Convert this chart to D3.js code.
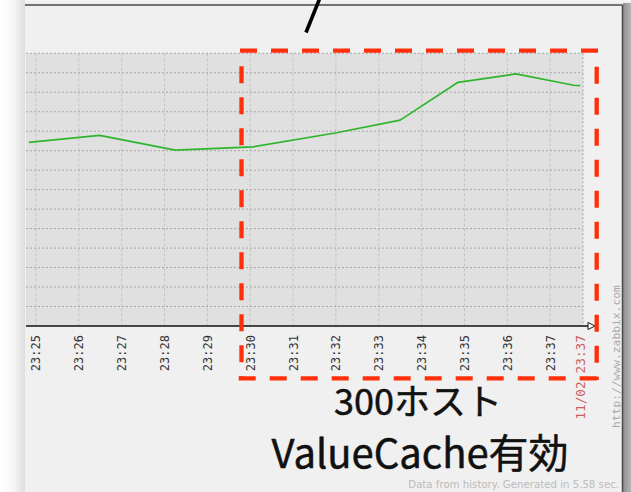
<!DOCTYPE html>
<html><head><meta charset="utf-8">
<script src="https://cdn.jsdelivr.net/npm/d3@7"></script>
<style>html,body{margin:0;padding:0;background:#fff;overflow:hidden}svg{display:block}</style>
</head><body>
<script>
// ---- data ----
const times = ["23:24:50","23:26:29","23:28:15","23:30:04","23:32:01","23:33:30","23:34:51","23:36:12","23:37:33","23:37:42"];
const values = [9.43, 9.79, 9.03, 9.20, 9.92, 10.57, 12.51, 12.94, 12.36, 12.34];
const tickLabels = ["23:25","23:26","23:27","23:28","23:29","23:30","23:31","23:32","23:33","23:34","23:35","23:36","23:37"];
const timeRange = ["23:24:46","23:37:46"];
const lastLabel = "11/02 23:37";
const yDomain = [0, 14];
const yGrid = d3.range(0, 15);
const title1 = "300ホスト";
const title2 = "ValueCache有効";
const footer = "Data from history. Generated in 5.58 sec.";
const credit = "http://www.zabbix.com";

// ---- layout ----
const W = 631, H = 492;
const P = {l: 26, r: 583, t: 53.3, b: 326};
const parse = d3.timeParse("%H:%M:%S");
const parseM = d3.timeParse("%H:%M");

const svg = d3.select("body").append("svg").attr("width", W).attr("height", H);
const defs = svg.append("defs");
const gl = defs.append("linearGradient").attr("id","shL").attr("x1",0).attr("x2",1).attr("y1",0).attr("y2",0);
gl.append("stop").attr("offset",0).attr("stop-color","#ffffff");
gl.append("stop").attr("offset",0.55).attr("stop-color","#f6f6f6");
gl.append("stop").attr("offset",1).attr("stop-color","#dedede");
const gr = defs.append("linearGradient").attr("id","shR").attr("x1",0).attr("x2",1).attr("y1",0).attr("y2",0);
gr.append("stop").attr("offset",0).attr("stop-color","#8e8e8e");
gr.append("stop").attr("offset",1).attr("stop-color","#b4b4b4");
const gt = defs.append("linearGradient").attr("id","shT").attr("x1",0).attr("x2",0).attr("y1",0).attr("y2",1);
gt.append("stop").attr("offset",0).attr("stop-color","#f7f7f7");
gt.append("stop").attr("offset",1).attr("stop-color","#e9e9e9");

// page & frame
svg.append("rect").attr("width",W).attr("height",H).attr("fill","#fafafa");
svg.append("rect").attr("x",0).attr("y",0).attr("width",W).attr("height",5).attr("fill","url(#shT)");
svg.append("rect").attr("x",0).attr("y",0).attr("width",25).attr("height",H).attr("fill","url(#shL)");
svg.append("rect").attr("x",25).attr("y",5).attr("width",597).attr("height",H-5).attr("fill","#f0f0f0");
svg.append("rect").attr("x",623).attr("y",3).attr("width",8).attr("height",H).attr("fill","url(#shR)");
svg.append("line").attr("x1",25).attr("x2",622.5).attr("y1",5).attr("y2",5).attr("stroke","#4a4a4a").attr("stroke-width",1.5);
svg.append("line").attr("x1",622.5).attr("x2",622.5).attr("y1",5).attr("y2",H).attr("stroke","#4a4a4a").attr("stroke-width",1.5);

// scales
const x = d3.scaleTime().domain(timeRange.map(parse)).range([P.l, P.r]);
const y = d3.scaleLinear().domain(yDomain).range([P.b, P.t]);

// plot bg
svg.append("rect").attr("x",P.l).attr("y",P.t).attr("width",P.r-P.l).attr("height",P.b-P.t).attr("fill","#e0e0e0");

// grid
const tickDates = tickLabels.map(t => parseM(t));
svg.append("g").selectAll("line").data(tickDates).join("line")
  .attr("x1", d => x(d)).attr("x2", d => x(d)).attr("y1", P.t).attr("y2", P.b)
  .attr("stroke","#c4c4c4").attr("stroke-width",1).attr("stroke-dasharray","3,2");
svg.append("g").selectAll("line").data(yGrid.filter(v => v > 0)).join("line")
  .attr("x1", P.l).attr("x2", P.r).attr("y1", d => y(d)).attr("y2", d => y(d))
  .attr("stroke","#a6a6a6").attr("stroke-width",1).attr("stroke-dasharray","2,2");
svg.append("line").attr("x1",P.r).attr("x2",P.r).attr("y1",P.t).attr("y2",P.b)
  .attr("stroke","#a6a6a6").attr("stroke-dasharray","2,2");

// line
const line = d3.line().x((d,i) => x(parse(times[i]))).y(d => y(d));
svg.append("path").datum(values).attr("d", line).attr("fill","none")
  .attr("stroke","#2eb52e").attr("stroke-width",1.7).attr("stroke-linejoin","round");

// x axis
const xAxis = d3.axisBottom(x).tickValues(tickDates).tickSize(0).tickFormat(d3.timeFormat("%H:%M"));
const ax = svg.append("g").attr("transform",`translate(0,${P.b})`).call(xAxis);
ax.select(".domain").remove();
ax.selectAll(".tick text")
  .attr("transform","translate(0,9) rotate(-90)")
  .attr("x",0).attr("y",0).attr("dy","0.33em").attr("dx",0)
  .attr("text-anchor","end")
  .attr("font-family","DejaVu Sans Mono").attr("font-size",12).attr("fill","#333");
svg.append("line").attr("x1",P.l).attr("x2",588).attr("y1",P.b).attr("y2",P.b).attr("stroke","#111").attr("stroke-width",1.5);
svg.append("path").attr("d",`M588,${P.b-3.5}L595,${P.b}L588,${P.b+3.5}Z`).attr("fill","#fff").attr("stroke","#111").attr("stroke-width",1);

// last label in red
svg.append("text").attr("transform",`translate(${x.range()[1]-2},335) rotate(-90)`)
  .attr("dy","0.33em").attr("text-anchor","end")
  .attr("font-family","DejaVu Sans Mono").attr("font-size",12.8).attr("fill","#c95f5f").text(lastLabel);

// credit
svg.append("text").attr("transform","translate(616.5,428) rotate(-90)")
  .attr("dy","0.33em").attr("text-anchor","start")
  .attr("font-family","DejaVu Sans Mono").attr("font-size",11.3).attr("fill","#aaaaaa").text(credit);

// footer
svg.append("text").attr("x",619).attr("y",488).attr("text-anchor","end")
  .attr("font-family","DejaVu Sans").attr("font-size",10.2).attr("fill","#bcbcbc").text(footer);

// red dashed annotation box
const red = "#ff2f0a";
const dash = "17,14";
function seg(x1,y1,x2,y2){svg.append("line").attr("x1",x1).attr("y1",y1).attr("x2",x2).attr("y2",y2)
  .attr("stroke",red).attr("stroke-width",4.3).attr("stroke-dasharray",dash);}
seg(240,50.7,600,50.7);
seg(238.7,378.3,600,378.3);
seg(241.5,66.3,241.5,380);
seg(596.7,66.7,596.7,380);

// black pointer stroke
svg.append("line").attr("x1",306).attr("y1",32.5).attr("x2",319.5).attr("y2",-1)
  .attr("stroke","#000").attr("stroke-width",3.6);

// titles
svg.append("text").attr("x",418).attr("y",415).attr("text-anchor","middle")
  .attr("font-family","Noto Sans CJK JP").attr("font-weight",400).attr("font-size",36)
  .attr("fill","#111").attr("stroke","#111").attr("stroke-width",0.5).attr("stroke-linejoin","round").text(title1);
svg.append("text").attr("x",420).attr("y",468).attr("text-anchor","middle")
  .attr("font-family","Noto Sans CJK JP").attr("font-weight",400).attr("font-size",40)
  .attr("fill","#111").attr("stroke","#111").attr("stroke-width",0.5).attr("stroke-linejoin","round").text(title2);
</script>
</body></html>
